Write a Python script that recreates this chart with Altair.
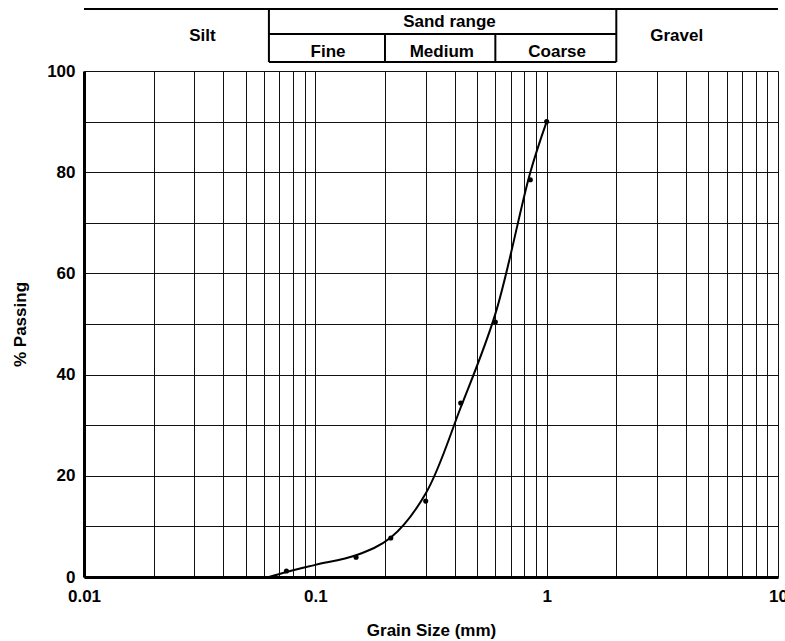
import altair as alt
import pandas as pd

# Sieve data (markers)
sieve_size = [0.075, 0.15, 0.212, 0.3, 0.425, 0.6, 0.85, 1.0]
pct_passing = [1.2, 3.9, 7.7, 15.0, 34.4, 50.4, 78.5, 90.0]

# Fitted grading curve
curve_size = [0.063, 0.075, 0.1, 0.15, 0.212, 0.3, 0.425, 0.6, 0.85, 1.0]
curve_pct = [0.0, 1.0, 2.4, 4.3, 7.8, 16.5, 33.5, 52.0, 80.0, 90.0]

# Classification header
band_edges = [0.063, 2.0]          # silt | sand | gravel
sand_splits = [0.2, 0.6]           # fine | medium | coarse
row1_labels = ["Silt", "Gravel"]
row1_pos = [0.0325, 3.65]
sand_title = ["Sand range"]
sand_title_pos = [0.38]
sub_labels = ["Fine", "Medium", "Coarse"]
sub_pos = [0.1135, 0.352, 1.11]

x_ticks = [d * m for d in [0.01, 0.1, 1] for m in range(1, 10)] + [10]
y_ticks = list(range(0, 101, 10))

FONT = "Liberation Sans"
FS = 17
W, H = 694, 506

xscale = alt.Scale(type="log", domain=[0.01, 10], nice=False)
yscale = alt.Scale(domain=[0, 100], nice=False, zero=True)

xaxis = alt.Axis(
    values=x_ticks,
    grid=True, gridColor="#111", gridWidth=1, gridOpacity=1,
    ticks=False, tickSize=0,
    domain=True, domainColor="black", domainWidth=3,
    labelExpr="abs(log(datum.value)/LN10 - round(log(datum.value)/LN10)) < 1e-6 ? format(datum.value, '~g') : ''",
    labelFlush=False, labelOverlap=False,
    labelFont=FONT, labelFontSize=FS, labelFontWeight="bold", labelColor="black",
    labelPadding=11,
    titleFont=FONT, titleFontSize=FS, titleFontWeight="bold", titleColor="black",
    titlePadding=18,
)
yaxis = alt.Axis(
    values=y_ticks,
    grid=True, gridColor="#111", gridWidth=1, gridOpacity=1,
    ticks=False, tickSize=0,
    domain=True, domainColor="black", domainWidth=3,
    labelExpr="datum.value % 20 == 0 ? datum.label : ''",
    labelFont=FONT, labelFontSize=FS, labelFontWeight="bold", labelColor="black",
    labelPadding=9,
    titleFont=FONT, titleFontSize=FS, titleFontWeight="bold", titleColor="black",
    titlePadding=17,
)

def X(field):
    return alt.X(field, type="quantitative", scale=xscale, axis=xaxis, title="Grain Size (mm)")

def Y(field):
    return alt.Y(field, type="quantitative", scale=yscale, axis=yaxis, title="% Passing")

curve_df = pd.DataFrame({"x": curve_size, "y": curve_pct})
pts_df = pd.DataFrame({"x": sieve_size, "y": pct_passing})

curve = alt.Chart(curve_df).mark_line(
    interpolate="catmull-rom", color="black", strokeWidth=2
).encode(x=X("x"), y=Y("y"))

points = alt.Chart(pts_df).mark_circle(
    color="black", size=26, opacity=1
).encode(x=X("x"), y=Y("y"))

# Header lines
TOP, MID, BOT = -62, -37, -9
top_line = alt.Chart(pd.DataFrame({"x": [0.01], "x2": [10]})).mark_rule(
    color="black", strokeWidth=2
).encode(x=X("x"), x2="x2", y=alt.value(TOP))

mid_line = alt.Chart(pd.DataFrame({"x": [band_edges[0]], "x2": [band_edges[1]]})).mark_rule(
    color="black", strokeWidth=2
).encode(x=X("x"), x2="x2", y=alt.value(MID))
bot_line = alt.Chart(pd.DataFrame({"x": [band_edges[0]], "x2": [band_edges[1]]})).mark_rule(
    color="black", strokeWidth=2
).encode(x=X("x"), x2="x2", y=alt.value(BOT))

outer_v = alt.Chart(pd.DataFrame({"x": band_edges})).mark_rule(
    color="black", strokeWidth=2
).encode(x=X("x"), y=alt.value(TOP), y2=alt.value(BOT))
inner_v = alt.Chart(pd.DataFrame({"x": sand_splits})).mark_rule(
    color="black", strokeWidth=2
).encode(x=X("x"), y=alt.value(MID), y2=alt.value(BOT))

text_style = dict(font=FONT, fontSize=FS, fontWeight="bold", color="black",
                  baseline="alphabetic", align="center")
row1 = alt.Chart(pd.DataFrame({"x": row1_pos, "t": row1_labels})).mark_text(**text_style).encode(
    x=X("x"), y=alt.value(-30), text="t:N")
row_sand = alt.Chart(pd.DataFrame({"x": sand_title_pos, "t": sand_title})).mark_text(**text_style).encode(
    x=X("x"), y=alt.value(-44), text="t:N")
row_sub = alt.Chart(pd.DataFrame({"x": sub_pos, "t": sub_labels})).mark_text(**text_style).encode(
    x=X("x"), y=alt.value(-14), text="t:N")

chart = alt.layer(
    curve, points, top_line, mid_line, bot_line, outer_v, inner_v, row1, row_sand, row_sub
).properties(
    width=W, height=H,
    autosize=alt.AutoSizeParams(type="none"),
    padding={"left": 84, "top": 71, "right": 7, "bottom": 64},
).configure_view(
    stroke="black", strokeWidth=2.5
).configure(background="white")

chart.save("out.html", embed_options={"renderer": "svg", "actions": False})
